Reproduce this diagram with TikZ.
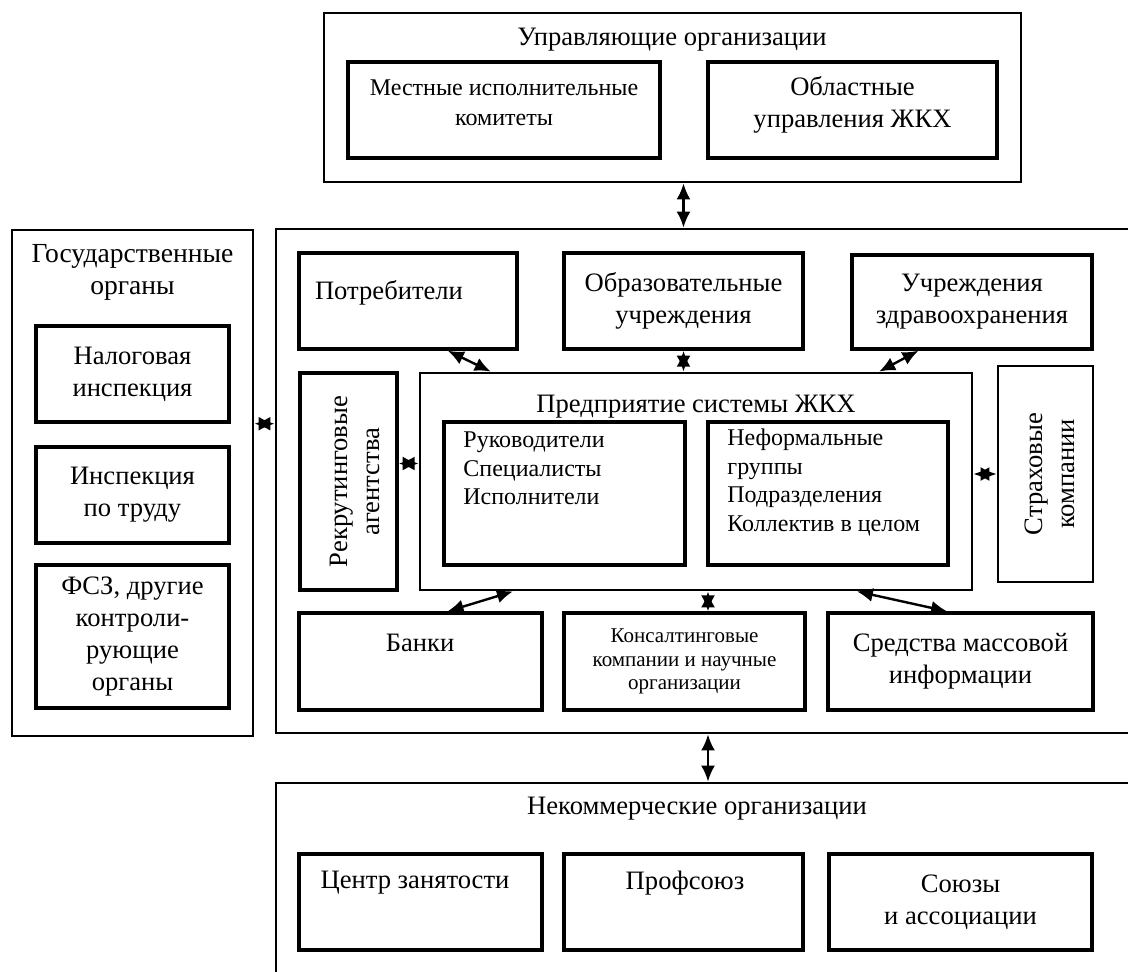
\documentclass[tikz,border=0pt]{standalone}
\usepackage{fontspec}
\setmainfont{Liberation Serif}
\usetikzlibrary{arrows.meta,calc,positioning}

\begin{document}
\begin{tikzpicture}[
		x=0.5pt, y=-0.5pt,
		box/.style={draw, line width=1.4pt, inner sep=0pt},
		inbox/.style={draw, line width=1.7pt, inner sep=0pt, align=center, font=\fontsize{13.3}{16}\selectfont},
		txt/.style={font=\fontsize{13.3}{16}\selectfont, align=center, inner sep=1pt},
		list/.style={font=\fontsize{12}{14.3}\selectfont, align=left, inner sep=1pt, anchor=west},
		link/.style={line width=1.2pt, {Latex[length=8pt,width=7pt]}-{Latex[length=8pt,width=7pt]}}
		]
		
		\useasboundingbox (0,0) rectangle (1128,971);
		
		% Top block
		\node[box, minimum width=348.5pt, minimum height=84.5pt] (upr) at (672.5,97.5) {};
		\node[txt] (upr-t) at (672,40) {Управляющие организации};
		\node[inbox, minimum width=156pt, minimum height=48pt] (mest) at (504,110) {};
		\node[txt, font=\fontsize{12}{15}\selectfont] (mest-t) at (504,103) {Местные исполнительные\\комитеты};
		\node[inbox, minimum width=144.5pt, minimum height=48pt] (obl) at (852.5,110) {};
		\node[txt] (obl-t) at (852.5,105) {Областные\\управления ЖКХ};
		
		% Left block
		\node[box, minimum width=120.5pt, minimum height=253pt] (gos) at (132.5,483) {};
		\node[txt, font=\fontsize{13.8}{16}\selectfont] (gos-t) at (132.5,272) {Государственные\\органы};
		\node[inbox, minimum width=96.5pt, minimum height=48pt] (nalog) at (132.5,374) {Налоговая\\инспекция};
		\node[inbox, minimum width=96.5pt, minimum height=48pt] (insp) at (132.5,495) {Инспекция\\по труду};
		\node[inbox, minimum width=96.5pt, minimum height=71.5pt] (fsz) at (132.5,636.5) {ФСЗ, другие\\контроли-\\рующие\\органы};
		
		% Middle block
		\node[box, minimum width=432pt, minimum height=252pt] (sreda) at (708,481) {};
		\node[inbox, minimum width=109pt, minimum height=48pt] (potr) at (408,301) {};
		\node[txt] (potr-t) at (389,293) {Потребители};
		\node[inbox, minimum width=119.5pt, minimum height=48pt] (obraz) at (683.5,301) {Образовательные\\учреждения};
		\node[inbox, minimum width=120pt, minimum height=47pt] (zdrav) at (972,302) {Учреждения\\здравоохранения};
		
		\node[inbox, minimum width=48.5pt, minimum height=108.5pt] (rekr) at (348.5,481.5) {};
		\node[txt, rotate=90] (rekr-t) at (355,481.5) {Рекрутинговые\\агентства};
		\node[box, minimum width=276pt, minimum height=108.5pt] (pred) at (696,481.5) {};
		\node[txt] (pred-t) at (696,407) {Предприятие системы ЖКХ};
		\node[inbox, minimum width=120.5pt, minimum height=71.5pt] (ruk) at (564.5,493.5) {};
		\node[list] (ruk-t) at (461,468.5) {Руководители\\Специалисты\\Исполнители};
		\node[inbox, minimum width=120pt, minimum height=71.5pt] (neform) at (828,493.5) {};
		\node[list] (neform-t) at (725,482.5) {Неформальные\\группы\\Подразделения\\Коллектив в целом};
		\node[box, minimum width=47.5pt, minimum height=108pt] (strah) at (1045.5,474) {};
		\node[txt, rotate=90] (strah-t) at (1050,474) {Страховые\\компании};
		
		\node[inbox, minimum width=121.5pt, minimum height=48.5pt] (banki) at (420.5,661.5) {};
		\node[txt] (banki-t) at (420,643) {Банки};
		\node[inbox, minimum width=120.5pt, minimum height=48.5pt, font=\fontsize{10.5}{11.8}\selectfont] (kons) at (684.5,661.5) {Консалтинговые\\компании и научные\\организации};
		\node[inbox, minimum width=132.5pt, minimum height=48.5pt] (smi) at (960.5,661.5) {Средства массовой\\информации};
		
		% Bottom block
		\node[box, minimum width=432pt, minimum height=103.5pt] (nekom) at (708,886.5) {};
		\node[txt] (nekom-t) at (697,809) {Некоммерческие организации};
		\node[inbox, minimum width=121.5pt, minimum height=48pt] (centr) at (420.5,902) {};
		\node[txt] (centr-t) at (415,883) {Центр занятости};
		\node[inbox, minimum width=119.5pt, minimum height=48pt] (prof) at (683.5,902) {};
		\node[txt] (prof-t) at (685,883) {Профсоюз};
		\node[inbox, minimum width=131.5pt, minimum height=48pt] (soyuz) at (960.5,902) {Союзы\\и ассоциации};
		
		% Links between blocks
		\draw[link] (upr.south -| obraz) -- (sreda.north -| obraz);
		\draw[link] (gos.east |- nalog.south) -- (sreda.west |- nalog.south);
		\draw[link] (sreda.south) -- (nekom.north);
		
		% Links to the enterprise
		\draw[link] ($(potr.south west)!0.68!(potr.south east)$) -- ($(pred.north west)!0.13!(pred.north east)$);
		\draw[link] (obraz.south) -- (obraz.south |- pred.north);
		\draw[link] ($(zdrav.south west)!0.28!(zdrav.south east)$) -- ($(pred.north west)!0.83!(pred.north east)$);
		\draw[link] ([yshift=9pt]rekr.east) -- ([yshift=9pt]rekr.east -| pred.west);
		\draw[link] (strah.west) -- (strah.west -| pred.east);
		\draw[link] ($(banki.north west)!0.61!(banki.north east)$) -- ($(pred.south west)!0.17!(pred.south east)$);
		\draw[link] (kons.north -| sreda) -- (pred.south -| sreda);
		\draw[link] ($(smi.north west)!0.45!(smi.north east)$) -- ($(pred.south west)!0.79!(pred.south east)$);
		
	\end{tikzpicture}
\end{document}
